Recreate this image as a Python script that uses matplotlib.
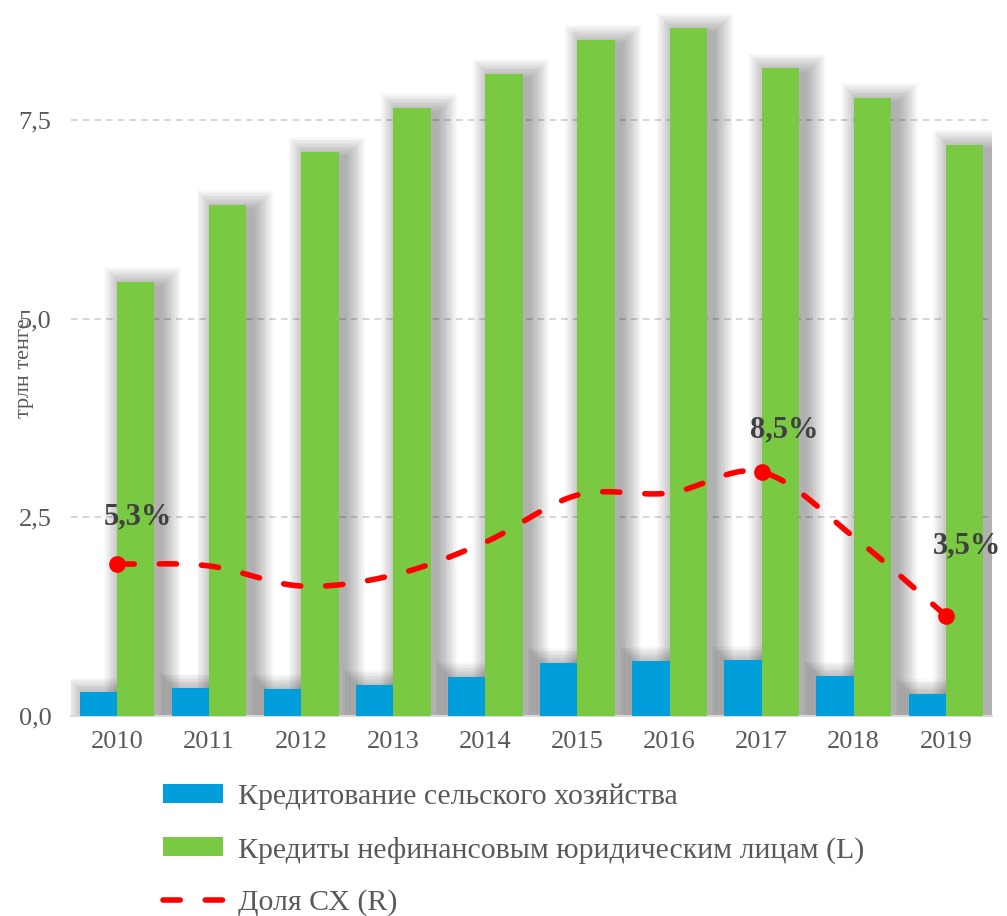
import numpy as np
import matplotlib
matplotlib.use('Agg')
import matplotlib.pyplot as plt
from matplotlib.ticker import FuncFormatter

# --- данные (трлн тенге, доля в %) ---
years = ['2010', '2011', '2012', '2013', '2014', '2015', '2016', '2017', '2018', '2019']
agri_loans = [0.30, 0.35, 0.34, 0.39, 0.49, 0.67, 0.69, 0.70, 0.50, 0.28]
corp_loans = [5.46, 6.43, 7.10, 7.65, 8.08, 8.51, 8.66, 8.15, 7.78, 7.19]
agri_share = [5.3, 5.23, 4.53, 4.91, 6.06, 7.70, 7.77, 8.5, 6.24, 3.5]
labelled = {0: '5,3%', 7: '8,5%', 9: '3,5%'}
label_offsets = {0: (15, 34), 7: (16, 30), 9: (15, 50)}

plt.rcParams['font.family'] = ['Liberation Serif', 'DejaVu Serif']

BLUE = '#009fdb'
GREEN = '#7ac943'
RED = '#ff0000'
GREY_TXT = '#595959'


def catmull_rom(x, y, n=30):
    """Сглаженная линия как в Excel (для отрисовки)."""
    pts = np.column_stack([x, y]).astype(float)
    pts = np.vstack([pts[0] * 2 - pts[1], pts, pts[-1] * 2 - pts[-2]])
    out = []
    t = np.linspace(0, 1, n)[:, None]
    for i in range(1, len(pts) - 2):
        p0, p1, p2, p3 = pts[i - 1], pts[i], pts[i + 1], pts[i + 2]
        seg = 0.5 * ((2 * p1) + (-p0 + p2) * t + (2 * p0 - 5 * p1 + 4 * p2 - p3) * t ** 2
                     + (-p0 + 3 * p1 - 3 * p2 + p3) * t ** 3)
        out.append(seg if i == 1 else seg[1:])
    out = np.vstack(out)
    return out[:, 0], out[:, 1]


fig = plt.figure(figsize=(10.07, 9.16), dpi=100)
ax = fig.add_axes([0.0705, 0.2183, 0.9145, 0.7722])

x = np.arange(len(years))
w = 0.405
px_x = 1 / 92.3
px_y = 1 / 79.47

# мягкая тень за столбиками
for vals, xs in ((agri_loans, x - w / 2), (corp_loans, x + w / 2)):
    for k in range(1, 15):
        r = 1.4 * k
        ax.bar(xs + 7 * px_x, np.array(vals) + (r - 5) * px_y, width=w + 2 * r * px_x,
               color='black', alpha=0.024, linewidth=0, zorder=1)

ax.bar(x - w / 2, agri_loans, width=w, color=BLUE, zorder=3,
       label='Кредитование сельского хозяйства')
ax.bar(x + w / 2, corp_loans, width=w, color=GREEN, zorder=3,
       label='Кредиты нефинансовым юридическим лицам (L)')

ax.set_xlim(-0.5, len(years) - 0.5)
ax.set_ylim(0, 8.9)
ax.set_yticks([0, 2.5, 5.0, 7.5])
ax.yaxis.set_major_formatter(FuncFormatter(lambda v, p: f'{v:.1f}'.replace('.', ',')))
ax.set_xticks(x)
ax.set_xticklabels(years)
ax.grid(axis='y', color='#d0d0d0', linestyle=(0, (4, 3)), linewidth=1.2, zorder=0)
ax.set_axisbelow(True)
for s in ('top', 'right', 'left'):
    ax.spines[s].set_visible(False)
ax.spines['bottom'].set_color('#d9d9d9')
ax.spines['bottom'].set_linewidth(1.5)
ax.tick_params(axis='both', length=0, labelsize=19, labelcolor=GREY_TXT)
ax.tick_params(axis='x', pad=11)
ax.tick_params(axis='y', pad=14)

fig.text(25 / 1007, 1 - 368 / 916, 'трлн тенге', rotation=90, ha='center', va='center',
         fontsize=16, color=GREY_TXT)

# доля СХ на правой (скрытой) оси
ax2 = ax.twinx()
ax2.set_ylim(0, 8.9 * 79.47 / 28.7)
ax2.axis('off')
sx, sy = catmull_rom(x, agri_share)
line, = ax2.plot(sx, sy, color=RED, linewidth=4, linestyle=(0, (3.1, 4.5)),
                 dash_capstyle='round', zorder=5, label='Доля СХ (R)')
idx = list(labelled.keys())
ax2.plot(x[idx], np.array(agri_share)[idx], 'o', color=RED, markersize=11, zorder=6)
for i, txt in labelled.items():
    ax2.annotate(txt, (x[i], agri_share[i]), xytext=label_offsets[i], textcoords='offset points',
                 ha='center', va='center', fontsize=22, fontweight='bold', color='#404040')

h1, l1 = ax.get_legend_handles_labels()
fig.legend(h1 + [line], l1 + ['Доля СХ (R)'], loc='upper left',
           bbox_to_anchor=(163 / 1007, 1 - 784 / 916), frameon=False, fontsize=21.5,
           labelcolor=GREY_TXT, handlelength=2.0, handleheight=0.6, handletextpad=0.5,
           labelspacing=0.86, borderpad=0, borderaxespad=0)

plt.savefig('out.png', dpi=100)
